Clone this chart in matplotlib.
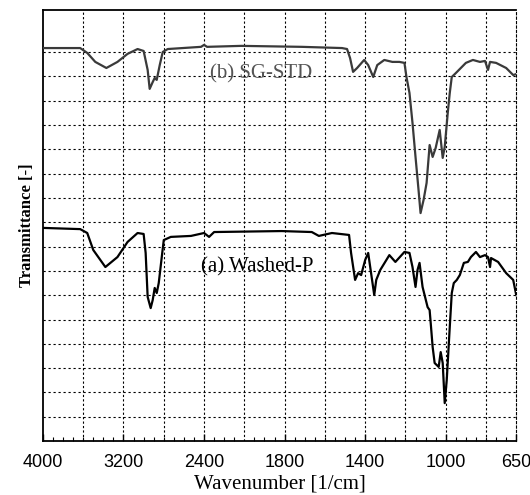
import numpy as np
import matplotlib
matplotlib.use('Agg')
import matplotlib.pyplot as plt

# FTIR spectra (transmittance in grid units, arbitrary)
wn_b = [4000, 3630, 3560, 3480, 3370, 3260, 3160, 3060, 3000, 2960, 2940, 2910,
        2890, 2870, 2840, 2810, 2760, 2430, 2400, 2370, 2030, 1715, 1515, 1490,
        1475, 1460, 1440, 1405, 1385, 1360, 1340, 1305, 1265, 1230, 1205, 1195,
        1180, 1165, 1150, 1135, 1125, 1110, 1095, 1080, 1065, 1050, 1030, 1015,
        1005, 990, 980, 970, 950, 925, 900, 865, 830, 805, 790, 780, 750, 700,
        665, 650]
t_b = [16.17, 16.17, 15.97, 15.60, 15.35, 15.60, 15.93, 16.13, 16.05, 15.27,
       14.49, 14.77, 14.94, 14.86, 15.47, 16.01, 16.13, 16.22, 16.30, 16.22,
       16.26, 16.22, 16.17, 16.13, 15.76, 15.19, 15.35, 15.68, 15.47, 14.98,
       15.47, 15.68, 15.60, 15.60, 15.56, 14.98, 14.32, 13.09, 11.69, 10.33,
       9.38, 9.92, 10.62, 12.18, 11.69, 12.06, 12.80, 11.65, 12.10, 13.50,
       14.32, 14.98, 15.14, 15.35, 15.56, 15.68, 15.60, 15.64, 15.27, 15.60,
       15.56, 15.35, 15.06, 15.10]

wn_a = [4000, 3630, 3560, 3500, 3380, 3260, 3160, 3060, 3000, 2980, 2960, 2930,
        2910, 2890, 2870, 2850, 2820, 2800, 2730, 2530, 2400, 2350, 2300, 1815,
        1665, 1630, 1565, 1480, 1470, 1450, 1435, 1420, 1400, 1385, 1375, 1355,
        1345, 1325, 1280, 1250, 1205, 1180, 1165, 1150, 1140, 1130, 1115, 1090,
        1080, 1075, 1065, 1055, 1035, 1025, 1015, 1005, 995, 980, 970, 960, 945,
        930, 910, 890, 875, 850, 830, 805, 790, 780, 775, 740, 700, 665, 650]
t_a = [8.77, 8.72, 8.56, 7.86, 7.16, 7.57, 8.19, 8.56, 8.52, 7.74, 5.93, 5.47,
       5.80, 6.30, 6.09, 6.50, 7.57, 8.27, 8.40, 8.44, 8.56, 8.40, 8.60, 8.64,
       8.60, 8.44, 8.56, 8.48, 7.74, 6.63, 6.91, 6.83, 7.45, 7.74, 7.16, 6.01,
       6.63, 7.04, 7.65, 7.37, 7.78, 7.74, 7.16, 6.34, 7.04, 7.33, 6.34, 5.51,
       5.39, 4.90, 3.87, 3.21, 3.05, 3.66, 3.21, 1.56, 2.51, 4.69, 6.09, 6.50,
       6.63, 6.83, 7.33, 7.37, 7.57, 7.78, 7.57, 7.65, 7.57, 7.16, 7.53, 7.37,
       6.91, 6.63, 6.01]

label_ticks = [4000, 3200, 2400, 1800, 1400, 1000, 650]
vgrid = [3600, 3200, 2800, 2400, 2000, 1800, 1600, 1400, 1200, 1000, 800]
hgrid = list(range(1, 17))


# usual FTIR double scale: 4000-2000 compressed by 2
def fwd(x):
    x = np.asarray(x, dtype=float)
    return np.where(x > 2000, 2000 + (x - 2000) / 2, x)


def inv(u):
    u = np.asarray(u, dtype=float)
    return np.where(u > 2000, 2000 + (u - 2000) * 2, u)


fig = plt.figure(figsize=(5.3, 4.95), dpi=100)
ax = fig.add_axes([0.081, 0.109, 0.893, 0.871])
ax.set_xscale('function', functions=(fwd, inv))
ax.set_xlim(4000, 650)
ax.set_ylim(0, 17.74)

for x in vgrid:
    ax.axvline(x, color='k', lw=0.8, ls=(0, (2, 2)), zorder=1)
for y in hgrid:
    ax.axhline(y, color='k', lw=0.8, ls=(0, (2, 2.5)), zorder=1)

ax.plot(wn_b, t_b, color='#3a3a3a', lw=1.6, zorder=3)
ax.plot(wn_a, t_a, color='k', lw=1.6, zorder=3)

serif = ['Liberation Serif', 'DejaVu Serif']
ax.text(1915, 15.12, '(b) SG-STD', family=serif, fontsize=15,
        color='#555555', ha='center', va='center', zorder=4)
ax.text(1935, 7.16, '(a) Washed-P', family=serif, fontsize=15,
        color='k', ha='center', va='center', zorder=4)

ax.set_xticks(label_ticks)
ax.set_xticklabels([str(v) for v in label_ticks], family='Liberation Sans',
                   fontsize=13)
minor = [v for v in range(3900, 2000, -100)] + [v for v in range(1950, 650, -50)]
ax.set_xticks(minor, minor=True)
ax.tick_params(axis='x', which='major', direction='in', length=5, width=1,
               pad=9)
ax.tick_params(axis='x', which='minor', direction='in', length=3, width=0.8)
ax.set_yticks([])

ax.set_xlabel('Wavenumber [1/cm]', family=serif, fontsize=15, labelpad=3)
ax.set_ylabel('Transmittance [-]', family=serif, fontsize=12, weight='bold',
              labelpad=6)

for s in ('left', 'top', 'bottom'):
    ax.spines[s].set_linewidth(1.3)
ax.spines['right'].set_linestyle((0, (2, 2)))
ax.spines['right'].set_linewidth(0.8)

fig.savefig('out.png', dpi=100)
